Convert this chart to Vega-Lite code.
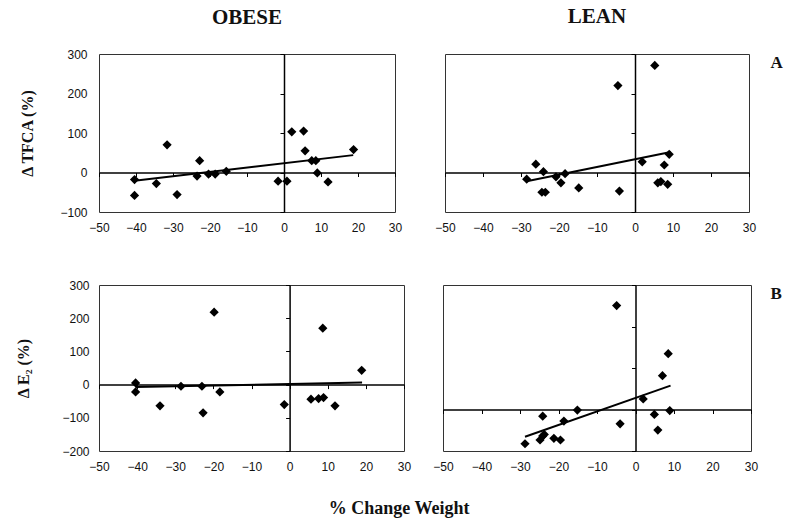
{
  "$schema": "https://vega.github.io/schema/vega-lite/v6.json",
  "padding": {"left": 15, "top": 5, "right": 2, "bottom": 5},
  "background": "white",
  "config": {
    "view": {"stroke": "#333", "strokeWidth": 1},
    "axis": {"grid": false, "labelFont": "Liberation Sans", "labelFontSize": 12, "labelColor": "#111", "labelFlush": false, "labelOverlap": false, "titleFont": "Liberation Serif", "titleFontWeight": "bold", "titleColor": "#111", "titleFontSize": 16},
    "title": {"font": "Liberation Serif", "fontWeight": "bold", "color": "#111"},
    "point": {"shape": "diamond", "filled": true, "color": "black", "opacity": 1, "size": 85},
    "line": {"color": "black", "strokeWidth": 2}
  },
  "datasets": {
    "tl": [
      {"x": -40.4, "y": -18}, {"x": -40.4, "y": -58}, {"x": -34.5, "y": -28}, {"x": -31.6, "y": 70},
      {"x": -28.9, "y": -56}, {"x": -23.5, "y": -9}, {"x": -22.8, "y": 30}, {"x": -20.4, "y": -4},
      {"x": -18.6, "y": -4}, {"x": -15.6, "y": 3}, {"x": -1.6, "y": -22}, {"x": 0.8, "y": -22},
      {"x": 2.1, "y": 103}, {"x": 5.3, "y": 105}, {"x": 5.7, "y": 55}, {"x": 7.5, "y": 30},
      {"x": 8.6, "y": 30}, {"x": 9.0, "y": -1}, {"x": 11.9, "y": -24}, {"x": 18.8, "y": 58}
    ],
    "tl_fit": [{"x": -40.4, "y": -21}, {"x": 18.7, "y": 44}],
    "tr": [
      {"x": -28.5, "y": -17}, {"x": -26.1, "y": 21}, {"x": -24.1, "y": 2}, {"x": -24.5, "y": -50},
      {"x": -23.6, "y": -50}, {"x": -20.8, "y": -11}, {"x": -19.5, "y": -26}, {"x": -18.4, "y": -3},
      {"x": -14.8, "y": -39}, {"x": -4.5, "y": 220}, {"x": -4.1, "y": -47}, {"x": 1.9, "y": 27},
      {"x": 5.2, "y": 271}, {"x": 6.0, "y": -26}, {"x": 6.8, "y": -23}, {"x": 7.7, "y": 19},
      {"x": 8.6, "y": -30}, {"x": 9.0, "y": 46}
    ],
    "tr_fit": [{"x": -28.5, "y": -22}, {"x": 9.4, "y": 52}],
    "bl": [
      {"x": -40.4, "y": 5}, {"x": -40.4, "y": -22}, {"x": -34.0, "y": -64}, {"x": -28.5, "y": -5},
      {"x": -23.0, "y": -5}, {"x": -22.7, "y": -85}, {"x": -19.8, "y": 218}, {"x": -18.3, "y": -22},
      {"x": -1.4, "y": -60}, {"x": 5.6, "y": -44}, {"x": 7.6, "y": -42}, {"x": 8.9, "y": -39},
      {"x": 8.7, "y": 170}, {"x": 11.9, "y": -64}, {"x": 18.9, "y": 43}
    ],
    "bl_fit": [{"x": -40.4, "y": -7.5}, {"x": 19.0, "y": 6}],
    "br": [
      {"x": -28.7, "y": -165}, {"x": -24.8, "y": -147}, {"x": -24.1, "y": -128}, {"x": -23.7, "y": -120},
      {"x": -24.1, "y": -32}, {"x": -21.2, "y": -139}, {"x": -19.5, "y": -147}, {"x": -18.6, "y": -56},
      {"x": -15.1, "y": -3}, {"x": -4.9, "y": 501}, {"x": -4.0, "y": -69}, {"x": 2.0, "y": 51},
      {"x": 4.9, "y": -24}, {"x": 5.8, "y": -99}, {"x": 7.0, "y": 163}, {"x": 8.5, "y": 269},
      {"x": 8.9, "y": -5}
    ],
    "br_fit": [{"x": -28.7, "y": -131}, {"x": 9.1, "y": 115}]
  },
  "title": {"text": "% Change Weight", "orient": "bottom", "anchor": "middle", "fontSize": 18, "offset": 27},
  "spacing": 44,
  "vconcat": [
    {
      "spacing": 31,
      "hconcat": [
        {
          "width": 296, "height": 158,
          "title": {"text": "OBESE", "fontSize": 21, "offset": 20, "anchor": "middle", "frame": "group"},
          "layer": [
            {
              "data": {"name": "tl"},
              "mark": {"type": "point"},
              "encoding": {
                "x": {"field": "x", "type": "quantitative", "scale": {"domain": [-50, 30], "nice": false, "zero": false},
                  "axis": {"orient": "bottom", "values": [-50, -40, -30, -20, -10, 0, 10, 20, 30], "domain": false, "ticks": false, "labelPadding": 10, "title": null}},
                "y": {"field": "y", "type": "quantitative", "scale": {"domain": [-100, 300], "nice": false, "zero": false},
                  "axis": {"orient": "left", "values": [-100, 0, 100, 200, 300], "domain": false, "ticks": false, "labelPadding": 12, "title": "Δ TFCA (%)", "titlePadding": 24}}
              }
            },
            {
              "data": {"name": "tl_fit"},
              "mark": {"type": "line"},
              "encoding": {
                "x": {"field": "x", "type": "quantitative", "scale": {"domain": [-50, 30], "nice": false, "zero": false},
                  "axis": {"orient": "bottom", "offset": -39.5, "values": [-50, -40, -30, -20, -10, 0, 10, 20, 30], "labels": false, "tickSize": 4, "tickColor": "black", "domainColor": "black", "domainWidth": 1.5, "title": null}},
                "y": {"field": "y", "type": "quantitative", "scale": {"domain": [-100, 300], "nice": false, "zero": false},
                  "axis": {"orient": "left", "offset": -185, "values": [-100, 0, 100, 200, 300], "labels": false, "tickSize": 4, "tickColor": "black", "domainColor": "black", "domainWidth": 1.5, "title": null}}
              }
            }
          ],
          "resolve": {"axis": {"x": "independent", "y": "independent"}}
        },
        {
          "width": 304, "height": 158,
          "title": {"text": "LEAN", "fontSize": 21, "offset": 26, "anchor": "middle", "frame": "group"},
          "layer": [
            {
              "data": {"name": "tr"},
              "mark": {"type": "point"},
              "encoding": {
                "x": {"field": "x", "type": "quantitative", "scale": {"domain": [-50, 30], "nice": false, "zero": false},
                  "axis": {"orient": "bottom", "values": [-50, -40, -30, -20, -10, 0, 10, 20, 30], "domain": false, "ticks": false, "labelPadding": 10, "title": null}},
                "y": {"field": "y", "type": "quantitative", "scale": {"domain": [-100, 300], "nice": false, "zero": false},
                  "axis": {"orient": "left", "offset": -190, "values": [-100, 0, 100, 200, 300], "labels": false, "tickSize": 4, "tickColor": "black", "domainColor": "black", "domainWidth": 1.5, "title": null}}
              }
            },
            {
              "data": {"name": "tr_fit"},
              "mark": {"type": "line"},
              "encoding": {
                "x": {"field": "x", "type": "quantitative", "scale": {"domain": [-50, 30], "nice": false, "zero": false},
                  "axis": {"orient": "bottom", "offset": -39.5, "values": [-50, -40, -30, -20, -10, 0, 10, 20, 30], "labels": false, "tickSize": 4, "tickColor": "black", "domainColor": "black", "domainWidth": 1.5, "title": null}},
                "y": {"field": "y", "type": "quantitative", "scale": {"domain": [-100, 300], "nice": false, "zero": false},
                  "axis": {"orient": "right", "values": [], "labels": false, "ticks": false, "domain": false, "title": "A", "titleAngle": 0, "titleAnchor": "end", "titleAlign": "left", "titleBaseline": "top", "titlePadding": 21, "titleFontSize": 17}}
              }
            }
          ],
          "resolve": {"axis": {"x": "independent", "y": "independent"}}
        }
      ]
    },
    {
      "spacing": 20,
      "hconcat": [
        {
          "width": 305, "height": 166,
          "layer": [
            {
              "data": {"name": "bl"},
              "mark": {"type": "point"},
              "encoding": {
                "x": {"field": "x", "type": "quantitative", "scale": {"domain": [-50, 30], "nice": false, "zero": false},
                  "axis": {"orient": "bottom", "values": [-50, -40, -30, -20, -10, 0, 10, 20, 30], "domain": false, "ticks": false, "labelPadding": 10, "title": null}},
                "y": {"field": "y", "type": "quantitative", "scale": {"domain": [-200, 300], "nice": false, "zero": false},
                  "axis": {"orient": "left", "values": [-200, -100, 0, 100, 200, 300], "domain": false, "ticks": false, "labelPadding": 10, "title": "Δ E₂ (%)", "titlePadding": 30}}
              }
            },
            {
              "data": {"name": "bl_fit"},
              "mark": {"type": "line"},
              "encoding": {
                "x": {"field": "x", "type": "quantitative", "scale": {"domain": [-50, 30], "nice": false, "zero": false},
                  "axis": {"orient": "bottom", "offset": -66.4, "values": [-50, -40, -30, -20, -10, 0, 10, 20, 30], "labels": false, "tickSize": 4, "tickColor": "black", "domainColor": "black", "domainWidth": 1.5, "title": null}},
                "y": {"field": "y", "type": "quantitative", "scale": {"domain": [-200, 300], "nice": false, "zero": false},
                  "axis": {"orient": "left", "offset": -190.6, "values": [-200, -100, 0, 100, 200, 300], "labels": false, "tickSize": 4, "tickColor": "black", "domainColor": "black", "domainWidth": 1.5, "title": null}}
              }
            }
          ],
          "resolve": {"axis": {"x": "independent", "y": "independent"}}
        },
        {
          "width": 308, "height": 166,
          "layer": [
            {
              "data": {"name": "br"},
              "mark": {"type": "point"},
              "encoding": {
                "x": {"field": "x", "type": "quantitative", "scale": {"domain": [-50, 30], "nice": false, "zero": false},
                  "axis": {"orient": "bottom", "values": [-50, -40, -30, -20, -10, 0, 10, 20, 30], "domain": false, "ticks": false, "labelPadding": 10, "title": null}},
                "y": {"field": "y", "type": "quantitative", "scale": {"domain": [-200, 600], "nice": false, "zero": false},
                  "axis": {"orient": "left", "offset": -192.5, "values": [-200, 0, 200, 400, 600], "labels": false, "tickSize": 4, "tickColor": "black", "domainColor": "black", "domainWidth": 1.5, "title": null}}
              }
            },
            {
              "data": {"name": "br_fit"},
              "mark": {"type": "line"},
              "encoding": {
                "x": {"field": "x", "type": "quantitative", "scale": {"domain": [-50, 30], "nice": false, "zero": false},
                  "axis": {"orient": "bottom", "offset": -41.5, "values": [-50, -40, -30, -20, -10, 0, 10, 20, 30], "labels": false, "tickSize": 4, "tickColor": "black", "domainColor": "black", "domainWidth": 1.5, "title": null}},
                "y": {"field": "y", "type": "quantitative", "scale": {"domain": [-200, 600], "nice": false, "zero": false},
                  "axis": {"orient": "right", "values": [], "labels": false, "ticks": false, "domain": false, "title": "B", "titleAngle": 0, "titleAnchor": "end", "titleAlign": "left", "titleBaseline": "top", "titlePadding": 19, "titleFontSize": 17}}
              }
            }
          ],
          "resolve": {"axis": {"x": "independent", "y": "independent"}}
        }
      ]
    }
  ]
}
